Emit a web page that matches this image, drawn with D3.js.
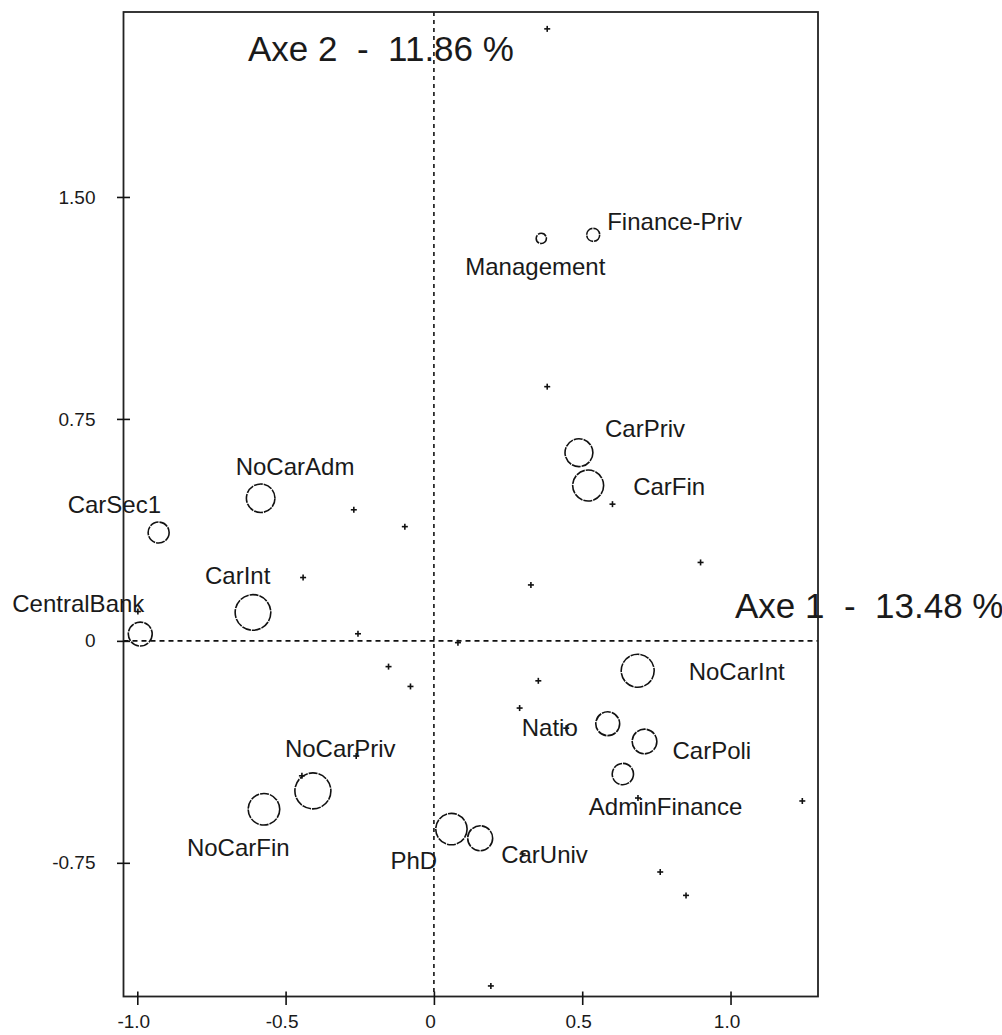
<!DOCTYPE html>
<html>
<head>
<meta charset="utf-8">
<script src="https://cdn.jsdelivr.net/npm/d3@7"></script>
<style>
  html, body { margin: 0; padding: 0; background: #fff; }
  svg { display: block; }
  text { font-family: "Liberation Sans", Arial, sans-serif; fill: #1a1a1a; }
</style>
</head>
<body>
<svg id="chart" width="1002" height="1035"></svg>
<script>
// ---------- data ----------
const categories = ["Management","Finance-Priv","NoCarAdm","CarSec1","CarInt","CentralBank",
  "CarPriv","CarFin","NoCarInt","Natio","CarPoli","AdminFinance","CarUniv","PhD","NoCarPriv","NoCarFin"];
const axis1 = [0.362, 0.537, -0.584, -0.928, -0.610, -0.990,
  0.489, 0.520, 0.687, 0.586, 0.710, 0.637, 0.156, 0.059, -0.408, -0.573];
const axis2 = [1.360, 1.372, 0.482, 0.366, 0.096, 0.023,
  0.636, 0.525, -0.101, -0.280, -0.340, -0.450, -0.667, -0.636, -0.507, -0.569];
const weights = [8, 13, 63, 34, 98, 44, 60, 74, 84, 44, 47, 35, 48, 76, 100, 77];

// supplementary points (small crosses)
const supX = [0.382, 0.382, -0.270, -0.098, -0.441, -0.998, -0.256, 0.081, -0.153, -0.079,
  0.602, 0.899, 0.327, 0.352, 0.289, 0.446, 0.688, 1.242, 0.299, 0.763, 0.850, 0.192, -0.262, -0.445];
const supY = [2.068, 0.859, 0.443, 0.386, 0.214, 0.099, 0.024, -0.006, -0.087, -0.154,
  0.462, 0.265, 0.189, -0.135, -0.227, -0.295, -0.531, -0.541, -0.720, -0.781, -0.860, -1.166, -0.389, -0.456];

const xTicks = [-1.0, -0.5, 0, 0.5, 1.0];
const xTickLabels = ["-1.0", "-0.5", "0", "0.5", "1.0"];
const yTicks = [-0.75, 0, 0.75, 1.5];
const yTickLabels = ["-0.75", "0", "0.75", "1.50"];

const axisTitle1 = "Axe 1  -  13.48 %";
const axisTitle2 = "Axe 2  -  11.86 %";

// ---------- layout (label offsets in px, relative to circle centre) ----------
const labelOffsets = [[-76, 37], [14, -5], [-25, -23], [-91, -20], [-48, -28], [-128, -22],
  [26, -16], [45, 9], [51, 9], [-86, 12], [28, 18], [-34, 41], [21, 25], [-61, 40], [-28, -34], [-77, 47]];

// ---------- chart ----------
const svg = d3.select("#chart");
const pLeft = 123.5, pRight = 818, pTop = 12, pBottom = 996.5;

const x = d3.scaleLinear().domain([-1.0465, 1.2949]).range([pLeft, pRight]);
const y = d3.scaleLinear().domain([-1.2017, 2.125]).range([pBottom, pTop]);
const r = d3.scaleSqrt().domain([0, 100]).range([0, 18]);

// dashed axes through origin
svg.append("line")
  .attr("x1", x(0)).attr("x2", x(0)).attr("y1", pTop).attr("y2", pBottom)
  .attr("stroke", "#111").attr("stroke-width", 1.6).attr("stroke-dasharray", "4,4");
svg.append("line")
  .attr("x1", pLeft).attr("x2", pRight).attr("y1", y(0)).attr("y2", y(0))
  .attr("stroke", "#111").attr("stroke-width", 1.6).attr("stroke-dasharray", "5,4");

// axis titles
svg.append("text").attr("x", 248).attr("y", 61)
  .attr("font-size", 35).style("white-space", "pre")
  .text(axisTitle2);
svg.append("text").attr("x", 735).attr("y", 618)
  .attr("font-size", 35).style("white-space", "pre")
  .text(axisTitle1);

// frame
svg.append("rect")
  .attr("x", pLeft).attr("y", pTop).attr("width", pRight - pLeft).attr("height", pBottom - pTop)
  .attr("fill", "none").attr("stroke", "#222").attr("stroke-width", 1.8);

// axes
const gx = svg.append("g").attr("transform", `translate(0,${pBottom})`)
  .call(d3.axisBottom(x).tickValues(xTicks).tickFormat((d, i) => xTickLabels[i]).tickSize(8).tickPadding(6));
gx.select(".domain").remove();
gx.selectAll(".tick line").attr("y1", -5).attr("y2", 8.5).attr("stroke", "#111").attr("stroke-width", 1.6);
gx.selectAll(".tick text").attr("font-size", 19).attr("dy", "0.71em").attr("y", 18).attr("dx", -4)
  .style("font-family", "'Liberation Sans', Arial, sans-serif").attr("fill", "#1a1a1a");

const gy = svg.append("g").attr("transform", `translate(${pLeft},0)`)
  .call(d3.axisLeft(y).tickValues(yTicks).tickFormat((d, i) => yTickLabels[i]).tickSize(6).tickPadding(6));
gy.select(".domain").remove();
gy.selectAll(".tick line").attr("x1", 6.5).attr("x2", -6.5).attr("stroke", "#111").attr("stroke-width", 1.6);
gy.selectAll(".tick text").attr("font-size", 19).attr("x", -28)
  .style("font-family", "'Liberation Sans', Arial, sans-serif").attr("fill", "#1a1a1a");

// supplementary crosses
const sup = supX.map((v, i) => ({ x: v, y: supY[i] }));
const crosses = svg.append("g").attr("stroke", "#111").attr("stroke-width", 1.6);
crosses.selectAll("g").data(sup).join("g")
  .attr("transform", d => `translate(${x(d.x)},${y(d.y)})`)
  .each(function () {
    const g = d3.select(this);
    g.append("line").attr("x1", -3).attr("x2", 3);
    g.append("line").attr("y1", -3).attr("y2", 3);
  });

// active categories: circles + labels
const pts = categories.map((c, i) => ({ name: c, x: axis1[i], y: axis2[i], w: weights[i], off: labelOffsets[i] }));
svg.append("g").selectAll("circle").data(pts).join("circle")
  .attr("cx", d => x(d.x)).attr("cy", d => y(d.y)).attr("r", d => r(d.w))
  .attr("fill", "none").attr("stroke", "#111").attr("stroke-width", 1.6)
  .attr("stroke-dasharray", "9,1");

svg.append("g").selectAll("text").data(pts).join("text")
  .attr("x", d => x(d.x) + d.off[0]).attr("y", d => y(d.y) + d.off[1])
  .attr("font-size", 24).text(d => d.name);
</script>
</body>
</html>
